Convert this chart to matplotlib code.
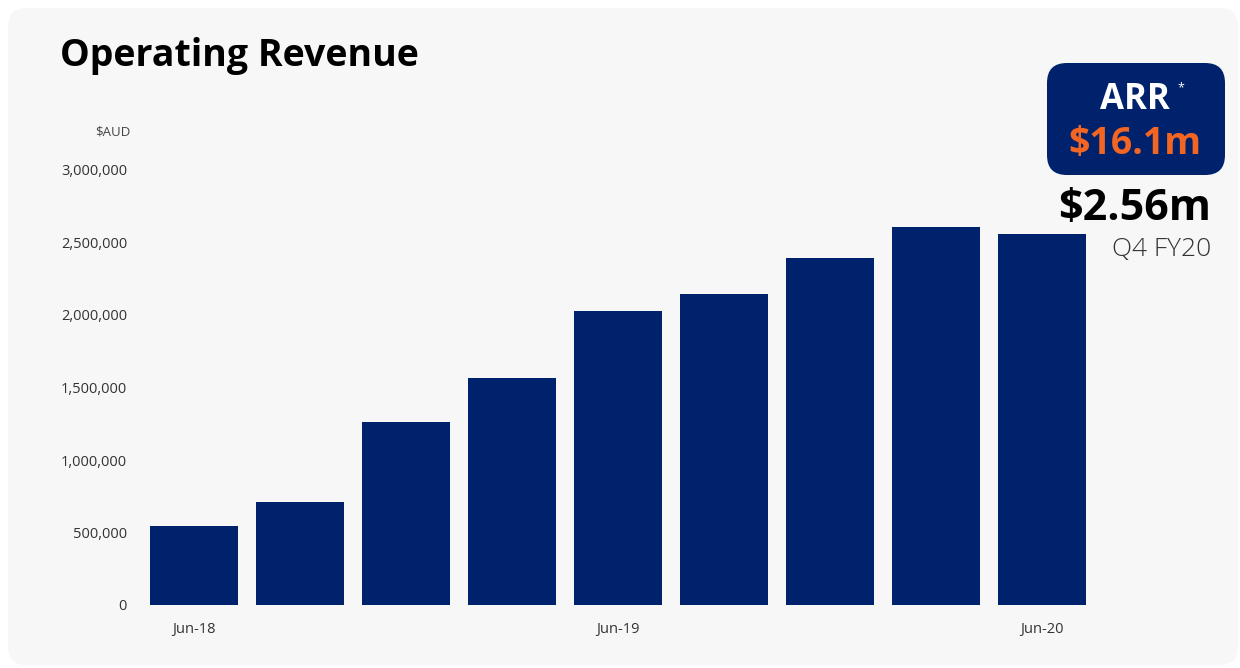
import matplotlib
matplotlib.use("Agg")
import matplotlib.pyplot as plt
from matplotlib.patches import FancyBboxPatch
from matplotlib.ticker import FuncFormatter

# data
quarters = ["Jun-18", "Sep-18", "Dec-18", "Mar-19", "Jun-19", "Sep-19", "Dec-19", "Mar-20", "Jun-20"]
revenue = [545000, 710000, 1262000, 1566000, 2028000, 2145000, 2393000, 2607000, 2560000]
shown_labels = ["Jun-18", "Jun-19", "Jun-20"]
yticks = [0, 500000, 1000000, 1500000, 2000000, 2500000, 3000000]

navy = "#00216b"
orange = "#f26522"
panel = "#f7f7f7"

plt.rcParams["font.family"] = ["Open Sans", "DejaVu Sans"]

fig = plt.figure(figsize=(12.4, 6.68), dpi=100)
fig.patch.set_facecolor("white")

# rounded light panel behind everything
bg = FancyBboxPatch((8 / 1240, 3 / 668), 1230 / 1240, 657 / 668,
                    boxstyle="round,pad=0,rounding_size=0.015",
                    transform=fig.transFigure, facecolor=panel, edgecolor="none",
                    mutation_aspect=1240 / 668, zorder=-2)
fig.patches.append(bg)

ax = fig.add_axes([141 / 1240, 63 / 668, 954 / 1240, 435 / 668])
ax.set_facecolor("none")
ax.set_zorder(1)

x = list(range(len(quarters)))
ax.bar(x, revenue, width=0.83, color=navy)

ax.set_xlim(-0.5, len(quarters) - 0.5)
ax.set_ylim(0, 3000000)
ax.set_yticks(yticks)
ax.yaxis.set_major_formatter(FuncFormatter(lambda v, p: f"{int(v):,}"))
ax.set_xticks([quarters.index(q) for q in shown_labels])
ax.set_xticklabels(shown_labels)
ax.tick_params(axis="y", length=0, pad=10, labelsize=10.5, labelcolor="#333333")
ax.tick_params(axis="x", length=0, pad=12, labelsize=10.5, labelcolor="#333333")
for s in ax.spines.values():
    s.set_visible(False)

fig.text(60 / 1240, 1 - 56 / 668, "Operating Revenue", fontsize=27, fontweight="bold",
         ha="left", va="center", color="black")
fig.text(130 / 1240, 1 - 132 / 668, "$AUD", fontsize=9.5, ha="right", va="center",
         color="#444444")

# ARR box
box = FancyBboxPatch((1047 / 1240, 1 - 175 / 668), 178 / 1240, 112 / 668,
                     boxstyle="round,pad=0,rounding_size=0.016",
                     transform=fig.transFigure, facecolor=navy, edgecolor="none",
                     mutation_aspect=1240 / 668, zorder=-1)
fig.patches.append(box)
fig.text(1135 / 1240, 1 - 100 / 668, "ARR", fontsize=25, fontweight="bold", color="white",
         ha="center", va="center")
fig.text(1181 / 1240, 1 - 88 / 668, "*", fontsize=9, color="white", ha="center", va="center")
fig.text(1135 / 1240, 1 - 144 / 668, "$16.1m", fontsize=27, fontweight="bold", color=orange,
         ha="center", va="center")

fig.text(1211 / 1240, 1 - 209 / 668, "$2.56m", fontsize=31, fontweight="bold", color="black",
         ha="right", va="center")
fig.text(1211 / 1240, 1 - 250 / 668, "Q4 FY20", fontsize=19, fontweight="light", color="#333333",
         ha="right", va="center")

fig.savefig("out.png", dpi=100, facecolor=fig.get_facecolor())
